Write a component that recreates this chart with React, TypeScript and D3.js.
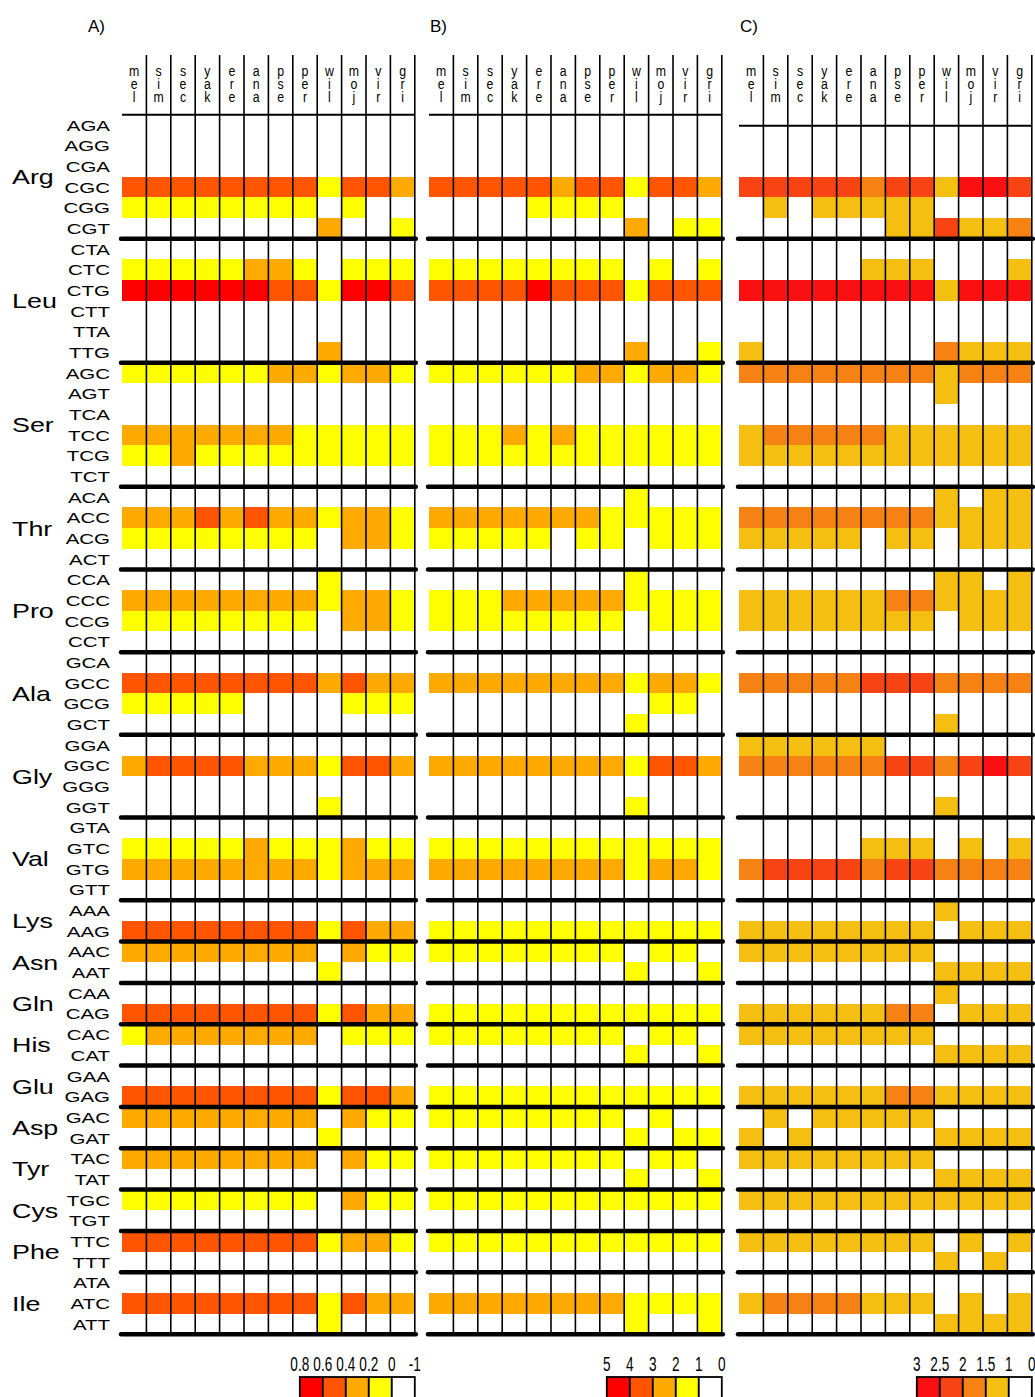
import * as d3 from 'd3';

const species = ['mel', 'sim', 'sec', 'yak', 'ere', 'ana', 'pse', 'per', 'wil', 'moj', 'vir', 'gri'];

const aminoAcids = ['Arg', 'Leu', 'Ser', 'Thr', 'Pro', 'Ala', 'Gly', 'Val', 'Lys', 'Asn', 'Gln', 'His', 'Glu', 'Asp', 'Tyr', 'Cys', 'Phe', 'Ile'];

const codonGroups = [
  ['AGA', 'AGG', 'CGA', 'CGC', 'CGG', 'CGT'],
  ['CTA', 'CTC', 'CTG', 'CTT', 'TTA', 'TTG'],
  ['AGC', 'AGT', 'TCA', 'TCC', 'TCG', 'TCT'],
  ['ACA', 'ACC', 'ACG', 'ACT'],
  ['CCA', 'CCC', 'CCG', 'CCT'],
  ['GCA', 'GCC', 'GCG', 'GCT'],
  ['GGA', 'GGC', 'GGG', 'GGT'],
  ['GTA', 'GTC', 'GTG', 'GTT'],
  ['AAA', 'AAG'],
  ['AAC', 'AAT'],
  ['CAA', 'CAG'],
  ['CAC', 'CAT'],
  ['GAA', 'GAG'],
  ['GAC', 'GAT'],
  ['TAC', 'TAT'],
  ['TGC', 'TGT'],
  ['TTC', 'TTT'],
  ['ATA', 'ATC', 'ATT'],
];

// legend bin of every cell (0 = lowest/white ... 4 = highest/red), one string per codon, one digit per species
const panelA = [
  '000000000000', '000000000000', '000000000000', '333333331332', '111111110100', '000000002001',
  '000000000000', '111112210111', '444444331443', '000000000000', '000000000000', '000000002000',
  '111111221221', '000000000000', '000000000000', '222222211111', '112111111111', '000000000000',
  '000000000000', '222323221221', '111111110221', '000000000000',
  '000000001000', '222222221221', '111111110221', '000000000000',
  '000000000000', '333333332322', '111110000111', '000000000000',
  '000000000000', '233332221332', '000000000000', '000000001000',
  '000000000000', '111112111211', '222222221222', '000000000000',
  '000000000000', '333333331322',
  '222222220211', '000000001000',
  '000000000000', '333333331322',
  '122222220111', '000000000000',
  '000000000000', '333333331332',
  '222222220211', '000000001000',
  '222222220211', '000000000000',
  '111111110211', '000000000000',
  '333333331221', '000000000000',
  '000000000000', '333333331322', '000000001000',
];

const panelB = [
  '000000000000', '000000000000', '000000000000', '333332331332', '000011110000', '000000002011',
  '000000000000', '111111110101', '333343331333', '000000000000', '000000000000', '000000002001',
  '111111221221', '000000000000', '000000000000', '111212111111', '111111111111', '000000000000',
  '000000001000', '222222211111', '111110110111', '000000000000',
  '000000001000', '111222221111', '111111110111', '000000000000',
  '000000000000', '222222221221', '000000000110', '000000001000',
  '000000000000', '222222221332', '000000000000', '000000001000',
  '000000000000', '111111111111', '222222221221', '000000000000',
  '000000000000', '111111111111',
  '111111110110', '000000001001',
  '000000000000', '111111111111',
  '111111110110', '000000001001',
  '000000000000', '111111111111',
  '111111110100', '000000001011',
  '111111110110', '000000001001',
  '111111111111', '000000000000',
  '111111111111', '000000000000',
  '000000000000', '222222221111', '000000001001',
];

const panelC = [
  '000000000000', '000000000000', '000000000000', '333332331443', '010111110000', '000000113112',
  '000000000000', '000001110001', '444444441444', '000000000000', '000000000000', '100000002111',
  '222222221222', '000000001000', '000000000000', '122222111111', '111111111111', '000000000000',
  '000000001011', '222222221111', '111110110111', '000000000000',
  '000000001101', '111111221111', '111111110111', '000000000000',
  '000000000000', '222223332222', '000000000000', '000000001000',
  '111111000000', '222222332343', '000000000000', '000000001000',
  '000000000000', '000001110101', '233332332222', '000000000000',
  '000000001000', '111111110111',
  '111111110000', '000000001111',
  '000000001000', '111111220111',
  '111111110000', '000000001111',
  '000000000000', '111111221111',
  '010111110000', '101000001111',
  '111111110000', '000000001111',
  '111111111111', '000000000000',
  '111111110101', '000000001010',
  '000000000000', '122221110101', '000000001111',
];

const colorsAB = ['#FFFFFF', '#FFFF00', '#FFAA00', '#FF5500', '#FF0000'];
const colorsC = ['#FFFFFF', '#F5BF12', '#F58213', '#F84313', '#FA1010'];

const ticksA = ['0.8', '0.6', '0.4', '0.2', '0', '-1'];
const ticksB = ['5', '4', '3', '2', '1', '0'];
const ticksC = ['3', '2.5', '2', '1.5', '1', '0'];

const panels = [
  { label: 'A)', labelX: 88, x0: 122, rows: panelA, colors: colorsAB, ticks: ticksA, headY: 114.7 },
  { label: 'B)', labelX: 430, x0: 429, rows: panelB, colors: colorsAB, ticks: ticksB, headY: 114.7 },
  { label: 'C)', labelX: 740, x0: 739, rows: panelC, colors: colorsC, ticks: ticksC, headY: 125.7 },
];

const W = 1035;
const H = 1397;
const gridW = 292.8;
const top = 114.7;
const bottom = 1334.3;
const font = 'Liberation Sans, Arial, Helvetica, sans-serif';

export default function App() {
  const codons = codonGroups.flat();
  const y = d3.scaleBand<string>().domain(codons).range([top, bottom]);
  const bh = y.bandwidth();

  // group ends (for thick separators) and centres (for amino acid labels)
  const groupInfo = codonGroups.map(g => {
    const y0 = y(g[0])!;
    const y1 = y(g[g.length - 1])! + bh;
    return { y0, y1, mid: (y0 + y1) / 2 };
  });

  return (
    <svg width={W} height={H} style={{ position: 'absolute', left: 0, top: 0, background: '#fff' }} fontFamily={font}>
      {/* codon labels and amino acids (the original draws them wide) */}
      {codons.map(c => (
        <text key={c} transform={`translate(110,${y(c)! + bh / 2}) scale(1.32,1)`} dy="0.36em" textAnchor="end" fontSize={15.5}>{c}</text>
      ))}
      {aminoAcids.map((aa, i) => (
        <text key={aa} transform={`translate(12,${groupInfo[i].mid}) scale(1.28,1)`} dy="0.36em" fontSize={21}>{aa}</text>
      ))}

      {panels.map(p => {
        const x = d3.scaleBand<string>().domain(species).range([p.x0, p.x0 + gridW]);
        const bw = x.bandwidth();
        const color = d3.scaleOrdinal<number, string>().domain([0, 1, 2, 3, 4]).range(p.colors);
        const x1 = p.x0 + gridW;
        const legX = d3.scaleBand<number>().domain([4, 3, 2, 1, 0]).range([x1 - 115, x1]);
        const tickX = d3.scalePoint<string>().domain(p.ticks).range([x1 - 115, x1]);
        return (
          <g key={p.label}>
            <text x={p.labelX} y={32} fontSize={17}>{p.label}</text>

            {/* cells */}
            <g shapeRendering="crispEdges">
              {codons.map((c, r) =>
                species.map((s, j) => (
                  <rect
                    key={c + s}
                    x={x(s)}
                    y={y(c)}
                    width={bw + 0.5}
                    height={bh + 0.5}
                    fill={color(+p.rows[r][j])}
                  />
                ))
              )}
            </g>

            {/* species headers, written one letter under another */}
            {species.map(s => (
              <text key={s} transform={`translate(${x(s)! + bw / 2},76) scale(0.82,1)`} textAnchor="middle" fontSize={15}>
                {s.split('').map((ch, k) => (
                  <tspan key={k} x={0} y={k * 12.8}>{ch}</tspan>
                ))}
              </text>
            ))}

            {/* column lines */}
            {species.map(s => (
              <line key={'v' + s} x1={x(s)! + bw} x2={x(s)! + bw} y1={55} y2={bottom} stroke="#000" strokeWidth={1.6} />
            ))}
            <line x1={p.x0} x2={x1} y1={p.headY} y2={p.headY} stroke="#000" strokeWidth={2} />

            {/* amino acid separators */}
            {groupInfo.map((g, i) => (
              <line key={'h' + i} x1={p.x0 - 1} x2={x1 + 1} y1={g.y1} y2={g.y1} stroke="#000" strokeWidth={4.5} strokeLinecap="round" />
            ))}

            {/* legend */}
            {[4, 3, 2, 1, 0].map(k => (
              <rect key={'l' + k} x={legX(k)} y={1377} width={legX.bandwidth()} height={26} fill={color(k)} stroke="#000" strokeWidth={1.8} />
            ))}
            {p.ticks.map(t => (
              <text key={'t' + t} transform={`translate(${tickX(t)},1371) scale(0.68,1)`} textAnchor="middle" fontSize={20}>{t}</text>
            ))}
          </g>
        );
      })}
    </svg>
  );
}
